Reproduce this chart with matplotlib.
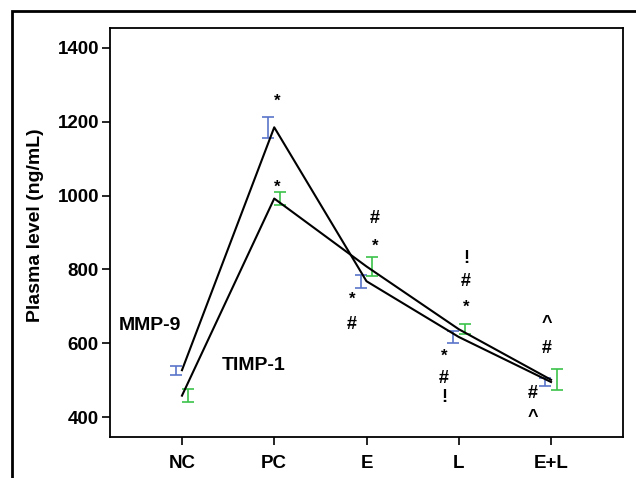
import matplotlib
matplotlib.use('Agg')
from matplotlib import pyplot as plt
from matplotlib.patches import Rectangle
import numpy as np

groups = ['NC', 'PC', 'E', 'L', 'E+L']
mmp9_mean = [527, 1185, 768, 617, 495]
mmp9_err = [12, 29, 17, 15, 11]
timp1_mean = [458, 992, 808, 638, 501]
timp1_err = [17, 18, 25, 14, 29]

# significance marks: (group index, value, symbol)
marks_above = [(1, 1255, '*'), (1, 1022, '*'),
               (2, 938, '#'), (2, 862, '*'),
               (3, 830, '!'), (3, 768, '#'), (3, 698, '*'),
               (4, 654, '^'), (4, 586, '#')]
marks_below = [(2, 720, '*'), (2, 651, '#'),
               (3, 566, '*'), (3, 505, '#'), (3, 454, '!'),
               (4, 465, '#'), (4, 400, '^')]
# horizontal shift of the marks per group (above, below)
shift_above = {1: 0.03, 2: 0.09, 3: 0.08, 4: -0.05}
shift_below = {2: -0.16, 3: -0.16, 4: -0.2}

plt.rcParams['font.family'] = ['Liberation Sans', 'DejaVu Sans']
plt.rcParams['font.weight'] = 'bold'
plt.rcParams['axes.labelweight'] = 'bold'

fig = plt.figure(figsize=[6.36, 4.78], dpi=100)
ax = fig.add_axes([110 / 636, 1 - 437 / 478, 513 / 636, 409 / 478])

# outer frame around the whole figure
fig.patches.append(Rectangle((12 / 636, -0.1), 1.0, 1 - 11 / 478 + 0.1,
                             transform=fig.transFigure, fill=False,
                             edgecolor='black', linewidth=2.0))

x = np.arange(len(groups))
off = 0.065

ax.plot(x, mmp9_mean, color='black', linewidth=1.5, zorder=3)
ax.plot(x, timp1_mean, color='black', linewidth=1.5, zorder=3)
ax.errorbar(x - off, mmp9_mean, yerr=mmp9_err, fmt='none', ecolor='#5a74c9',
            elinewidth=1.2, capsize=4, capthick=1.2, zorder=2)
ax.errorbar(x + off, timp1_mean, yerr=timp1_err, fmt='none', ecolor='#3cc24a',
            elinewidth=1.2, capsize=4, capthick=1.2, zorder=2)

for i, yv, s in marks_above:
    ax.text(i + shift_above[i], yv, s, ha='center', va='center',
            fontsize=13 if s != '*' else 12)
for i, yv, s in marks_below:
    ax.text(i + shift_below[i], yv, s, ha='center', va='center',
            fontsize=13 if s != '*' else 12)

ax.text(-0.69, 649, 'MMP-9', ha='left', va='center', fontsize=14)
ax.text(0.43, 540, 'TIMP-1', ha='left', va='center', fontsize=14)

ax.set_xlim(-0.78, 4.78)
ax.set_ylim(346, 1454)
ax.set_xticks(x)
ax.set_xticklabels(groups)
ax.set_yticks([400, 600, 800, 1000, 1200, 1400])
ax.tick_params(labelsize=13.5, length=6, width=1.2, pad=2)
ax.tick_params(axis='x', pad=7)
for sp in ax.spines.values():
    sp.set_linewidth(1.3)
ax.set_ylabel('Plasma level (ng/mL)', fontsize=14)
ax.yaxis.set_label_coords(-0.128, 0.518)

fig.savefig('out.png', dpi=100)
